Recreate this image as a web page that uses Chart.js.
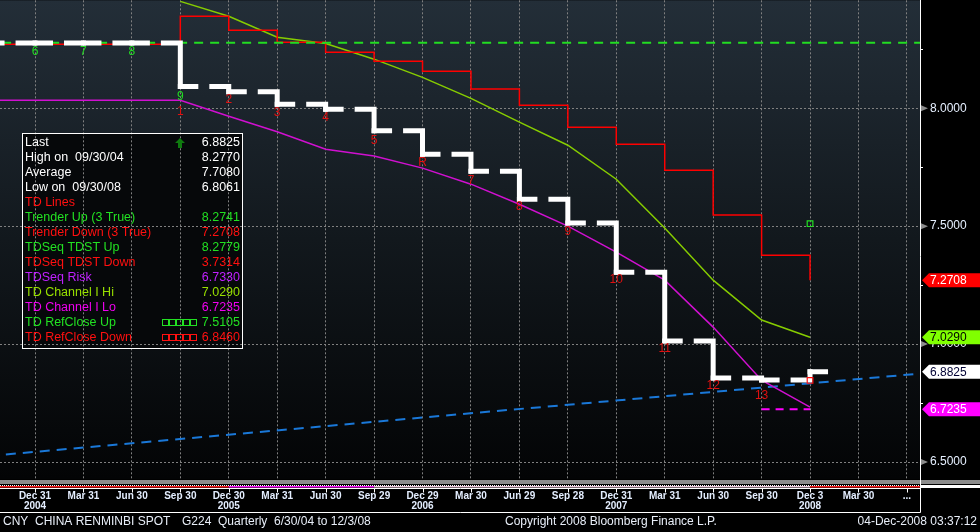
<!DOCTYPE html>
<html>
<head>
<meta charset="utf-8">
<script src="https://cdn.jsdelivr.net/npm/chart.js@4.4.0/dist/chart.umd.min.js"></script>
<style>
  html, body { margin: 0; padding: 0; background: #000; overflow: hidden; }
</style>
</head>
<body>
<canvas id="chart" width="980" height="532"></canvas>
<script>
// quarter index: 0 = Dec 31 2004
const quarterIdx = [-2, -1, 0, 1, 2, 3, 4, 5, 6, 7, 8, 9, 10, 11, 12, 13, 14, 15, 16];
const closeVals = [8.2765, 8.2765, 8.2765, 8.2765, 8.2765, 8.0920, 8.0702, 8.0170, 7.9956, 7.9050,
  7.8050, 7.7330, 7.6140, 7.5130, 7.3050, 7.0130, 6.8560, 6.8480, 6.8825];
const tdLineVals = [8.271, 8.271, 8.271, 8.271, 8.271, 8.390, 8.331, 8.280, 8.237, 8.199,
  8.157, 8.081, 8.013, 7.919, 7.847, 7.737, 7.547, 7.377, 7.2708];
const channelHi = [null, null, null, null, null, 8.453, 8.390, 8.301, 8.274, 8.208,
  8.131, 8.042, 7.941, 7.843, 7.699, 7.492, 7.271, 7.102, 7.029];
const channelLo = [8.034, 8.034, 8.034, 8.034, 8.034, 8.034, 7.966, 7.900, 7.826, 7.797,
  7.746, 7.678, 7.593, 7.500, 7.390, 7.271, 7.072, 6.847, 6.733];
const tdstUp = 8.2779;
const trendIdx = [-2, 19];
const trendVals = [6.507, 6.888];
const riskIdx = [15, 16];
const riskVals = [6.7235, 6.7235];
const refCloseUp = 7.5105;
const refCloseDown = 6.8460;

// TD count labels
const countText = ['6', '7', '8', '9', '1', '2', '3', '4', '5', 'R', '7', '8', '9', '10', '11', '12', '13'];
const countIdx = [0, 1, 2, 3, 3, 4, 5, 6, 7, 8, 9, 10, 11, 12, 13, 14, 15];
const countVal = [8.2415, 8.2415, 8.2415, 8.051, 7.987, 8.038, 7.983, 7.962, 7.864, 7.767,
  7.691, 7.581, 7.475, 7.271, 6.979, 6.822, 6.780];
const countSetup = [1, 1, 1, 1, 0, 0, 0, 0, 0, 0, 0, 0, 0, 0, 0, 0, 0];

// axis ticks
const tickIdx = [0, 1, 2, 3, 4, 5, 6, 7, 8, 9, 10, 11, 12, 13, 14, 15, 16, 17, 18];
const tickMonth = ['Dec 31', 'Mar 31', 'Jun 30', 'Sep 30', 'Dec 30', 'Mar 31', 'Jun 30', 'Sep 29', 'Dec 29',
  'Mar 30', 'Jun 29', 'Sep 28', 'Dec 31', 'Mar 31', 'Jun 30', 'Sep 30', 'Dec 3', 'Mar 30', '...'];
const tickYear = ['2004', '', '', '', '2005', '', '', '', '2006', '', '', '', '2007', '', '', '', '2008', '', ''];
const yTicks = [6.5, 7.0, 7.5, 8.0];
const yMinorTicks = [6.75, 7.25, 7.75, 8.25];

// right axis tags
const tagVals = [7.2708, 7.0290, 6.8825, 6.7235];
const tagBg = ['#ff0000', '#80ff00', '#ffffff', '#ff00ff'];
const tagFg = ['#ffffff', '#000000', '#000033', '#ffffff'];

// bottom indicator strip
const stripStart = [-2, 4, 7, 16];
const stripEnd = [4, 7, 16, 19];
const stripColor = ['#ff2020', '#ff20ff', '#f2cfe0', '#ff2020'];

// legend panel
const legendNames = ['Last', 'High on  09/30/04', 'Average', 'Low on  09/30/08', 'TD Lines',
  'Trender Up (3 True)', 'Trender Down (3 True)', 'TDSeq TDST Up', 'TDSeq TDST Down', 'TDSeq Risk',
  'TD Channel I Hi', 'TD Channel I Lo', 'TD RefClose Up', 'TD RefClose Down'];
const legendValues = ['6.8825', '8.2770', '7.7080', '6.8061', '', '8.2741', '7.2708', '8.2779',
  '3.7314', '6.7330', '7.0290', '6.7235', '7.5105', '6.8460'];
const legendColors = ['#ffffff', '#ffffff', '#ffffff', '#ffffff', '#ff1010', '#22e022', '#ff1010', '#22e022',
  '#ff1010', '#c020ff', '#98e000', '#f000f0', '#22e022', '#ff1010'];

const FONT = "'Liberation Sans', Arial, sans-serif";

const pts = (xs, ys) => xs.map((x, i) => ({ x: x, y: ys[i] }));

const closeData = pts(quarterIdx, closeVals);
// last quarter bar keeps its short right stub
closeData.push({ x: quarterIdx[quarterIdx.length - 1] + 0.4, y: closeVals[closeVals.length - 1] });

const frame = {
  id: 'frame',
  beforeDraw(chart) {
    const { ctx, chartArea: a, width, height } = chart;
    ctx.save();
    ctx.fillStyle = '#000';
    ctx.fillRect(0, 0, width, height);
    const g = ctx.createLinearGradient(0, a.top, 0, a.bottom);
    g.addColorStop(0, '#232e38');
    g.addColorStop(0.5, '#12181d');
    g.addColorStop(1, '#030405');
    ctx.fillStyle = g;
    ctx.fillRect(a.left, a.top, a.right - a.left, a.bottom - a.top);
    // legend panel background
    ctx.fillStyle = '#06080a';
    ctx.fillRect(22, 133, 221, 216);
    ctx.restore();
  },
  afterDatasetsDraw(chart) {
    const { ctx, scales: { x, y } } = chart;
    ctx.save();
    ctx.font = '12px ' + FONT;
    ctx.textAlign = 'center';
    ctx.textBaseline = 'middle';
    countText.forEach((t, i) => {
      ctx.fillStyle = countSetup[i] ? '#22dd22' : '#e01010';
      ctx.fillText(t, x.getPixelForValue(countIdx[i]), y.getPixelForValue(countVal[i]));
    });
    ctx.restore();
  },
  afterDraw(chart) {
    const { ctx, chartArea: a, scales: { x, y }, width } = chart;
    ctx.save();

    // bottom indicator strip
    ctx.fillStyle = '#8c8c8c';
    ctx.fillRect(0, a.bottom + 1, width, 4);
    ctx.strokeStyle = '#ffffff';
    ctx.lineWidth = 1;
    ctx.setLineDash([1, 1]);
    ctx.beginPath();
    ctx.moveTo(0, a.bottom + 6.5);
    ctx.lineTo(a.right, a.bottom + 6.5);
    ctx.stroke();
    ctx.setLineDash([]);
    ctx.lineWidth = 1.5;
    stripColor.forEach((c, i) => {
      const x0 = Math.max(a.left, x.getPixelForValue(stripStart[i]));
      const x1 = Math.min(a.right, x.getPixelForValue(stripEnd[i]));
      ctx.strokeStyle = c;
      ctx.beginPath();
      ctx.moveTo(x0, a.bottom + 7.8);
      ctx.lineTo(x1, a.bottom + 7.8);
      ctx.stroke();
    });
    ctx.fillStyle = '#ffffff';
    ctx.fillRect(a.right + 1, a.bottom + 6, width - a.right, 3);

    // x axis box and ticks
    const boxTop = a.bottom + 9.5;
    const boxBottom = 512.5;
    ctx.strokeStyle = '#ffffff';
    ctx.lineWidth = 1;
    ctx.beginPath();
    ctx.moveTo(0, boxTop);
    ctx.lineTo(a.right + 0.5, boxTop);
    ctx.moveTo(0, boxBottom);
    ctx.lineTo(a.right + 0.5, boxBottom);
    ctx.moveTo(a.right + 0.5, 0);
    ctx.lineTo(a.right + 0.5, boxBottom);
    tickIdx.forEach(v => {
      const px = Math.round(x.getPixelForValue(v)) + 0.5;
      ctx.moveTo(px, boxTop);
      ctx.lineTo(px, boxTop + 4);
    });
    ctx.stroke();

    // right axis markers
    ctx.fillStyle = '#8c8c8c';
    yTicks.forEach(v => {
      const py = y.getPixelForValue(v);
      ctx.beginPath();
      ctx.moveTo(a.right + 1, py - 3);
      ctx.lineTo(a.right + 8, py);
      ctx.lineTo(a.right + 1, py + 3);
      ctx.closePath();
      ctx.fill();
    });
    ctx.strokeStyle = '#ffffff';
    ctx.beginPath();
    yMinorTicks.forEach(v => {
      const py = Math.round(y.getPixelForValue(v)) + 0.5;
      ctx.moveTo(a.right, py);
      ctx.lineTo(a.right + 3, py);
    });
    ctx.stroke();

    // value tags
    ctx.font = '12px ' + FONT;
    ctx.textAlign = 'left';
    ctx.textBaseline = 'middle';
    tagVals.forEach((v, i) => {
      const py = y.getPixelForValue(v);
      ctx.fillStyle = tagBg[i];
      ctx.beginPath();
      ctx.moveTo(a.right + 2, py);
      ctx.lineTo(a.right + 9, py - 7);
      ctx.lineTo(width, py - 7);
      ctx.lineTo(width, py + 7);
      ctx.lineTo(a.right + 9, py + 7);
      ctx.closePath();
      ctx.fill();
      ctx.fillStyle = tagFg[i];
      ctx.fillText(v.toFixed(4), a.right + 10, py + 0.5);
    });

    // legend panel
    ctx.strokeStyle = '#ffffff';
    ctx.lineWidth = 1;
    ctx.strokeRect(22.5, 133.5, 220, 215);
    ctx.font = '12.5px ' + FONT;
    legendNames.forEach((n, i) => {
      const ly = 143 + i * 15;
      ctx.fillStyle = legendColors[i];
      ctx.textAlign = 'left';
      ctx.fillText(n, 25, ly);
      ctx.textAlign = 'right';
      ctx.fillText(legendValues[i], 240, ly);
    });
    // up arrow next to Last
    ctx.fillStyle = '#0f7a0f';
    ctx.beginPath();
    ctx.moveTo(180, 138);
    ctx.lineTo(185, 143);
    ctx.lineTo(182, 143);
    ctx.lineTo(182, 148);
    ctx.lineTo(178, 148);
    ctx.lineTo(178, 143);
    ctx.lineTo(175, 143);
    ctx.closePath();
    ctx.fill();
    // refclose swatches
    [['#22e022', 12], ['#ff1010', 13]].forEach(([c, row]) => {
      ctx.strokeStyle = c;
      const ly = 143 + row * 15;
      for (let k = 0; k < 5; k++) {
        ctx.strokeRect(162.5 + k * 7, ly - 3.5, 6, 6);
      }
    });

    // footer
    ctx.fillStyle = '#e8eef8';
    ctx.font = '12px ' + FONT;
    ctx.textAlign = 'left';
    ctx.textBaseline = 'middle';
    ctx.fillText('CNY  CHINA RENMINBI SPOT', 3, 522);
    ctx.fillText('G224', 182, 522);
    ctx.fillText('Quarterly  6/30/04 to 12/3/08', 218, 522);
    ctx.fillText('Copyright 2008 Bloomberg Finance L.P.', 505, 522);
    ctx.textAlign = 'right';
    ctx.fillText('04-Dec-2008 03:37:12', 977, 522);
    ctx.restore();
  }
};

new Chart(document.getElementById('chart'), {
  type: 'line',
  data: {
    datasets: [
      {
        label: 'TD RefClose',
        data: [{ x: 16, y: refCloseUp }, { x: 16, y: refCloseDown }],
        showLine: false,
        pointStyle: 'rect',
        pointRadius: 4,
        pointBorderWidth: 1.2,
        pointBackgroundColor: 'rgba(0,0,0,0)',
        pointBorderColor: ['#22e022', '#ff1010']
      },
      {
        label: 'Close',
        data: closeData,
        stepped: true,
        borderColor: '#ffffff',
        borderWidth: 5,
        borderCapStyle: 'square',
        borderJoinStyle: 'miter',
        segment: {
          borderDash: c => (c.p0DataIndex % 2 ? [15.5, 16, 2000] : [15.5, 16, 2001])
        }
      },
      {
        label: 'TDSeq TDST Up',
        data: [{ x: -2, y: tdstUp }, { x: 19, y: tdstUp }],
        borderColor: '#22dd22',
        borderWidth: 2,
        borderDash: [9, 7]
      },
      {
        label: 'TD Lines',
        data: pts(quarterIdx, tdLineVals),
        stepped: true,
        borderColor: '#ff0000',
        borderWidth: 1.5
      },
      {
        label: 'TD Channel I Hi',
        data: pts(quarterIdx, channelHi),
        borderColor: '#86cc00',
        borderWidth: 1.5
      },
      {
        label: 'TD Channel I Lo',
        data: pts(quarterIdx, channelLo),
        borderColor: '#d010d0',
        borderWidth: 1.5
      },
      {
        label: 'TDSeq Risk',
        data: pts(riskIdx, riskVals),
        borderColor: '#ff00ff',
        borderWidth: 2,
        borderDash: [8, 6]
      },
      {
        label: 'Trend',
        data: pts(trendIdx, trendVals),
        borderColor: '#1a78d8',
        borderWidth: 2,
        borderDash: [10, 7]
      }
    ]
  },
  options: {
    responsive: false,
    animation: false,
    devicePixelRatio: 1,
    layout: { padding: 0, autoPadding: false },
    elements: { point: { radius: 0 }, line: { tension: 0 } },
    plugins: { legend: { display: false }, tooltip: { enabled: false } },
    scales: {
      x: {
        type: 'linear',
        min: -0.7226,
        max: 18.27,
        afterBuildTicks: s => { s.ticks = tickIdx.map(v => ({ value: v })); },
        afterFit: s => { s.height = 53; },
        grid: {
          color: '#808080', lineWidth: 1, borderDash: [2, 2],
          drawTicks: true, tickLength: 12, tickColor: 'rgba(0,0,0,0)'
        },
        border: { display: false, dash: [2, 2] },
        ticks: {
          autoSkip: false,
          maxRotation: 0,
          padding: 0,
          color: '#e4eeff',
          font: { family: FONT, size: 10, weight: 'bold', lineHeight: 1.0 },
          callback: v => {
            const i = tickIdx.indexOf(v);
            if (i < 0) return '';
            return tickYear[i] ? [tickMonth[i], tickYear[i]] : tickMonth[i];
          }
        }
      },
      y: {
        position: 'right',
        min: 6.4280,
        max: 8.4576,
        afterBuildTicks: s => { s.ticks = yTicks.map(v => ({ value: v })); },
        afterFit: s => { s.width = 60; },
        grid: {
          color: '#808080', lineWidth: 1, borderDash: [2, 2],
          drawTicks: true, tickLength: 10, tickColor: 'rgba(0,0,0,0)'
        },
        border: { display: false, dash: [2, 2] },
        ticks: {
          padding: 0,
          color: '#e6f0ff',
          font: { family: FONT, size: 12, lineHeight: 0.05 },
          callback: v => Number(v).toFixed(4)
        }
      }
    }
  },
  plugins: [frame]
});
</script>
</body>
</html>
